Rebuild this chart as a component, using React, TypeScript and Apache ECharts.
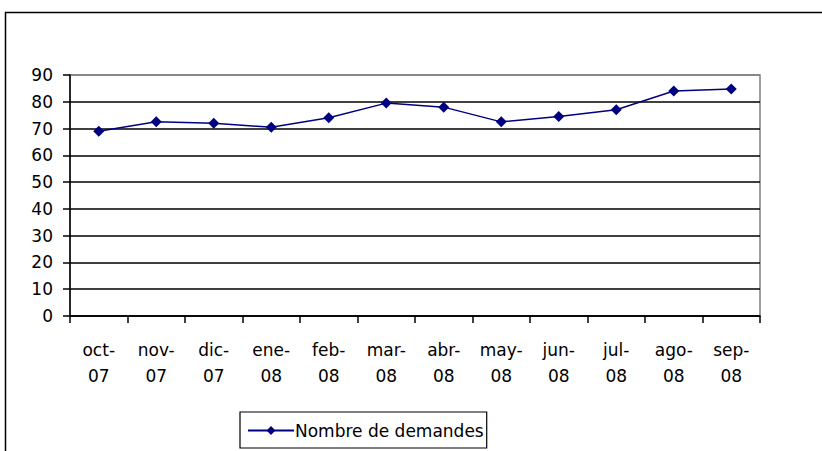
import React, { useEffect, useRef } from "react";
import * as echarts from "echarts";

const categories = ["oct-07", "nov-07", "dic-07", "ene-08", "feb-08", "mar-08", "abr-08", "may-08", "jun-08", "jul-08", "ago-08", "sep-08"];
const demandes = [69, 72.5, 72, 70.5, 74, 79.5, 78, 72.5, 74.5, 77, 84, 84.8];
const seriesName = "Nombre de demandes";

export default function App() {
  const ref = useRef<HTMLDivElement>(null);
  useEffect(() => {
    if (!ref.current) return;
    const chart = echarts.init(ref.current, null, { renderer: "svg" });
    const font = "'DejaVu Sans', 'Liberation Sans', Arial, sans-serif";
    const splitColors = ["#000", "#000", "#000", "#000", "#000", "#000", "#000", "#000", "#000", "#808080"];
    chart.setOption({
      animation: false,
      backgroundColor: "#fff",
      textStyle: { fontFamily: font, color: "#000" },
      graphic: [
        {
          type: "rect",
          shape: { x: 5.5, y: 12.5, width: 830, height: 460 },
          style: { fill: "none", stroke: "#000", lineWidth: 1.5 },
          silent: true,
          z: -1,
        },
      ],
      grid: {
        left: 70,
        top: 75,
        right: 62,
        bottom: 135,
        show: true,
        borderColor: "#808080",
        borderWidth: 1.5,
        backgroundColor: "transparent",
      },
      legend: {
        left: 240,
        top: 412,
        data: [seriesName],
        borderColor: "#000",
        borderWidth: 1.2,
        padding: [10, 3, 9, 7],
        itemWidth: 46,
        itemHeight: 11,
        itemGap: 2,
        textStyle: { fontFamily: font, fontSize: 17, color: "#000", padding: [0, 0, 0, -4] },
      },
      xAxis: {
        type: "category",
        data: categories,
        boundaryGap: true,
        axisLine: { lineStyle: { color: "#000", width: 1.5 } },
        axisTick: { show: true, length: 7, alignWithLabel: false, lineStyle: { color: "#000", width: 1.5 } },
        axisLabel: {
          interval: 0,
          margin: 21,
          fontSize: 17,
          lineHeight: 26,
          color: "#000",
          fontFamily: font,
          formatter: (v: string) => v.replace("-", "-\n"),
        },
        splitLine: { show: false },
      },
      yAxis: {
        type: "value",
        min: 0,
        max: 90,
        interval: 10,
        axisLine: { show: true, lineStyle: { color: "#000", width: 1.5 } },
        axisTick: { show: true, length: 7, lineStyle: { color: "#000", width: 1.5 } },
        axisLabel: { fontSize: 17, color: "#000", fontFamily: font, margin: 17 },
        splitLine: { show: true, lineStyle: { color: splitColors, width: 1.5 } },
      },
      series: [
        {
          name: seriesName,
          type: "line",
          data: demandes,
          symbol: "diamond",
          symbolSize: 11,
          itemStyle: { color: "#000080" },
          lineStyle: { color: "#000080", width: 1.5 },
        },
      ],
    });
    return () => chart.dispose();
  }, []);
  return (
    <div
      ref={ref}
      style={{ position: "absolute", left: 0, top: 0, width: 822, height: 451 }}
    />
  );
}
